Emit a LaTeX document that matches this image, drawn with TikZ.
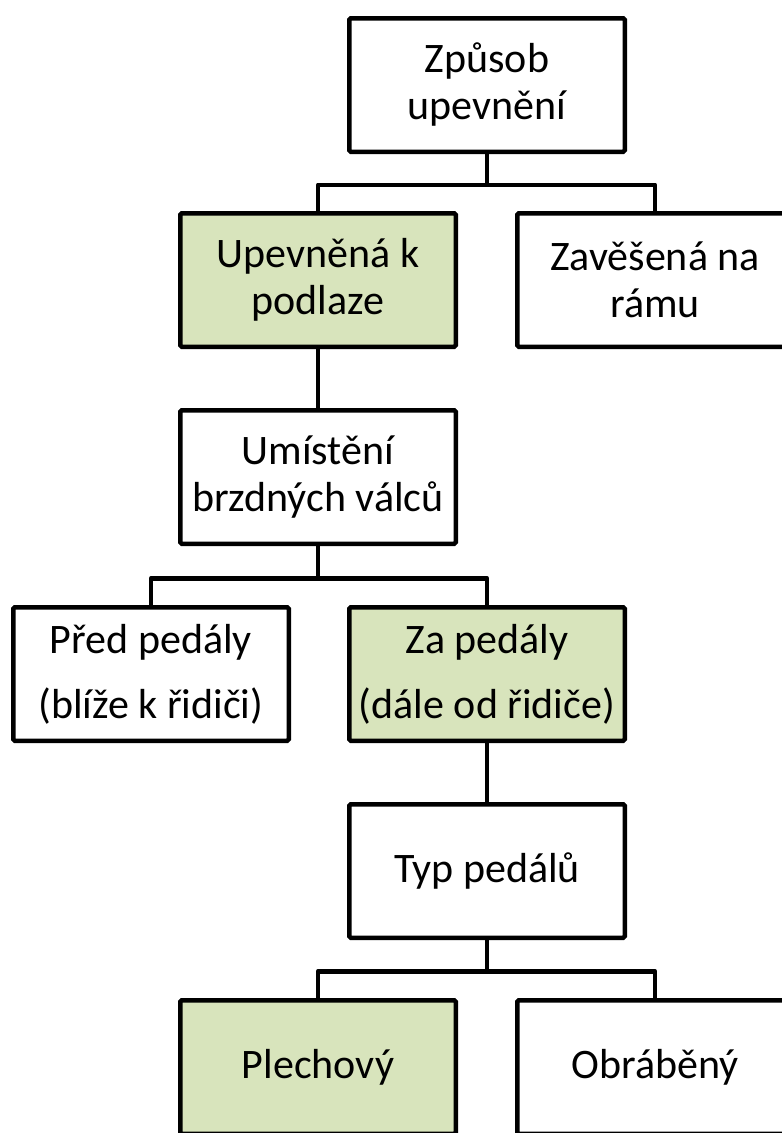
\documentclass[tikz,border=0pt]{standalone}
\usepackage{fontspec}
\setmainfont{Carlito}
\definecolor{lightolive}{RGB}{216,228,188}
\begin{document}
\begin{tikzpicture}[x=1pt,y=-1pt,
  box/.style={draw=black, line width=4.5pt, fill=white, rectangle, rounded corners=1.5pt,
    minimum width=275.5pt, minimum height=133.5pt, inner sep=0pt, align=center,
    font=\fontsize{42}{47}\selectfont},
  sel/.style={box, fill=lightolive},
  link/.style={draw=black, line width=4.5pt, line join=round}]
\clip (0,0) rectangle (782,1133);
\fill[white] (0,0) rectangle (782,1133);
\node[box] (n1) at (487,85) {Způsob\\upevnění};
\node[sel] (n2) at (318,280) {Upevněná k\\podlaze};
\node[box] (n3) at (655,280) {Zavěšená na\\rámu};
\node[box] (n4) at (318,477) {Umístění\\brzdných válců};
\node[box] (n5) at (151,674) {Před pedály\\[18pt](blíže k řidiči)};
\node[sel] (n6) at (487,674) {Za pedály\\[18pt](dále od řidiče)};
\node[box] (n7) at (487,871) {Typ pedálů};
\node[sel] (n8) at (318,1067) {Plechový};
\node[box] (n9) at (655,1067) {Obráběný};
\draw[link] (n1.south) -- ++(0,30.75) -| (n2.north);
\draw[link] (n1.south) -- ++(0,30.75) -| (n3.north);
\draw[link] (n2.south) -- (n4.north);
\draw[link] (n4.south) -- ++(0,32.25) -| (n5.north);
\draw[link] (n4.south) -- ++(0,32.25) -| (n6.north);
\draw[link] (n6.south) -- (n7.north);
\draw[link] (n7.south) -- ++(0,31.25) -| (n8.north);
\draw[link] (n7.south) -- ++(0,31.25) -| (n9.north);
\end{tikzpicture}
\end{document}
